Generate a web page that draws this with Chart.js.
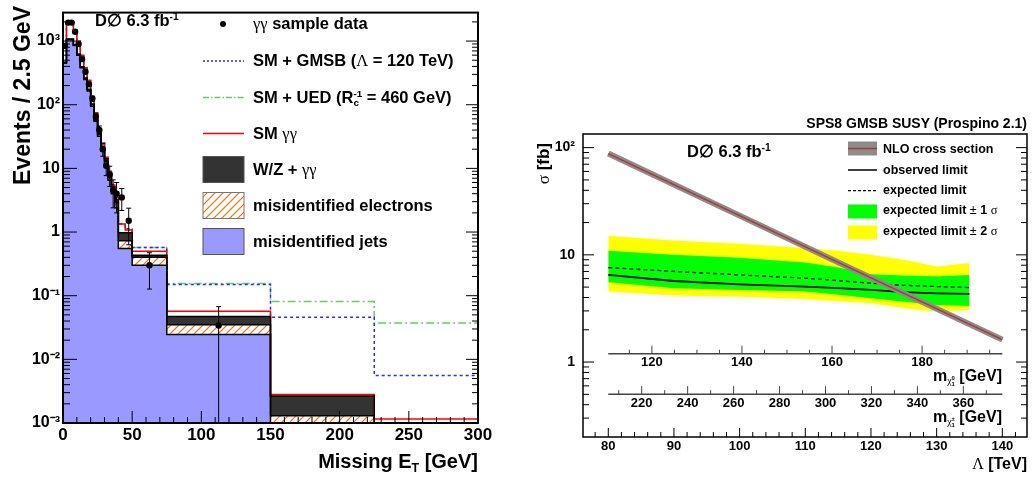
<!DOCTYPE html>
<html>
<head>
<meta charset="utf-8">
<script src="https://cdn.jsdelivr.net/npm/chart.js@4/dist/chart.umd.min.js"></script>
<style>
body { margin: 0; background: #fff; width: 1036px; height: 483px; overflow: hidden; position: relative;
       font-family: "Liberation Sans", Arial, sans-serif; font-weight: bold; color: #000; }
canvas { position: absolute; top: 0; }
#leftChart { left: 0; }
#rightChart { left: 536px; }
.t { position: absolute; white-space: nowrap; line-height: 1; }
.g { font-family: "Liberation Serif", "DejaVu Serif", serif; font-weight: normal; }
.sp { font-size: 62%; position: relative; top: -0.6em; }
.sb { font-size: 62%; position: relative; top: 0.3em; }
.st { display: inline-block; font-size: 60%; line-height: 0.95; vertical-align: -0.35em; text-align: left; }
.st span { display: block; }
.rot { transform-origin: 0 0; transform: rotate(-90deg) translate(-100%, -50%); }
</style>
</head>
<body>
<canvas id="leftChart" width="500" height="483"></canvas>
<canvas id="rightChart" width="500" height="483"></canvas>

<svg style="position:absolute;left:0;top:0" width="1036" height="483">
  <defs>
    <pattern id="hatch" width="8" height="8" patternUnits="userSpaceOnUse">
      <rect width="8" height="8" fill="#fff"/>
      <path d="M0,8 L8,0 M-2,2 L2,-2 M6,10 L10,6" stroke="#ff6a00" stroke-width="1.2"/>
    </pattern>
  </defs>
  <circle cx="223" cy="24" r="3" fill="#000"/>
  <line x1="203" y1="61" x2="244" y2="61" stroke="#2a2aff" stroke-width="1.5" stroke-dasharray="2,2"/>
  <line x1="203" y1="97.5" x2="244" y2="97.5" stroke="#66cc66" stroke-width="1.5" stroke-dasharray="6,2,1.5,2"/>
  <line x1="203" y1="133.5" x2="244" y2="133.5" stroke="#ff0000" stroke-width="1.5"/>
  <rect x="203" y="156.5" width="41" height="26" fill="#333" stroke="#555" stroke-width="1"/>
  <rect x="203" y="192.5" width="41" height="26" fill="url(#hatch)" stroke="#777" stroke-width="1"/>
  <rect x="203" y="228.5" width="41" height="26" fill="#9999ff" stroke="#555" stroke-width="1"/>

  <rect x="848" y="141.5" width="29" height="14" fill="#8c8c8c"/>
  <line x1="848" y1="148.5" x2="877" y2="148.5" stroke="#b03535" stroke-width="1.5"/>
  <line x1="848" y1="170" x2="877" y2="170" stroke="#000" stroke-width="1.5"/>
  <line x1="848" y1="190.7" x2="877" y2="190.7" stroke="#000" stroke-width="1.2" stroke-dasharray="3,2"/>
  <rect x="848" y="204.5" width="29" height="14" fill="#00ff00"/>
  <rect x="848" y="225.5" width="29" height="14" fill="#ffff00"/>
</svg>

<!-- left panel texts -->
<div class="t rot" style="left:22px;top:6px;font-size:23px">Events / 2.5 GeV</div>
<div class="t" style="right:558px;top:451px;font-size:20px">Missing E<span class="sb">T</span> [GeV]</div>
<div class="t" style="left:95px;top:12px;font-size:16.5px">D∅ 6.3 fb<span class="sp">-1</span></div>
<div class="t" style="left:253px;top:15px;font-size:16.5px"><span class="g">γγ</span> sample data</div>
<div class="t" style="left:253px;top:52px;font-size:16.5px">SM + GMSB (<span class="g">Λ</span> = 120 TeV)</div>
<div class="t" style="left:253px;top:88.5px;font-size:16.5px">SM + UED (R<span class="st"><span>-1</span><span>c</span></span> = 460 GeV)</div>
<div class="t" style="left:253px;top:124.5px;font-size:16.5px">SM <span class="g">γγ</span></div>
<div class="t" style="left:253px;top:160.5px;font-size:16.5px">W/Z + <span class="g">γγ</span></div>
<div class="t" style="left:253px;top:196.5px;font-size:16.5px">misidentified electrons</div>
<div class="t" style="left:253px;top:232.5px;font-size:16.5px">misidentified jets</div>

<!-- right panel texts -->
<div class="t" style="right:9px;top:115.5px;font-size:14px">SPS8 GMSB SUSY (Prospino 2.1)</div>
<div class="t" style="left:687px;top:142.7px;font-size:16.5px">D∅ 6.3 fb<span class="sp">-1</span></div>
<div class="t" style="left:883px;top:142.7px;font-size:12.5px">NLO cross section</div>
<div class="t" style="left:883px;top:164.4px;font-size:12.5px">observed limit</div>
<div class="t" style="left:883px;top:184.4px;font-size:12.5px">expected limit</div>
<div class="t" style="left:883px;top:204.4px;font-size:12.5px">expected limit <span style="font-weight:normal">±</span> 1 <span class="g">σ</span></div>
<div class="t" style="left:883px;top:225.4px;font-size:12.5px">expected limit <span style="font-weight:normal">±</span> 2 <span class="g">σ</span></div>
<div class="t" style="right:34px;top:368px;font-size:16px">m<span class="sb"><span class="g">χ</span><span class="st"><span>0</span><span>1</span></span></span> [GeV]</div>
<div class="t" style="right:34px;top:409px;font-size:16px">m<span class="sb"><span class="g">χ</span><span class="st"><span>±</span><span>1</span></span></span> [GeV]</div>
<div class="t" style="right:9px;top:455.5px;font-size:16px"><span class="g">Λ</span> [TeV]</div>
<div class="t rot" style="left:543px;top:143px;font-size:17px"><span class="g">σ</span> [fb]</div>

<script>
// ---- left panel: missing ET distribution (bin edges in GeV, values in events / 2.5 GeV)
const binEdges = [0, 2.5, 5, 7.5, 10, 12.5, 15, 17.5, 20, 22.5, 25, 27.5, 30, 32.5, 35, 37.5, 40, 45, 50, 75, 150, 225, 300];
const misidJets = [450, 1050, 1050, 850, 600, 380, 250, 165, 95, 55, 32, 19, 11.5, 6.5, 4.0, 2.4, 0.55, 0.55, 0.30, 0.0245, 0, 0];
const misidElectrons = [10, 20, 20, 20, 15, 12, 9, 7, 5, 3.5, 2.5, 1.8, 1.3, 0.9, 0.7, 0.5, 0.18, 0.18, 0.10, 0.0105, 0.0013, 0];
const wzGammaGamma = [3, 5, 5, 5, 4, 4, 3, 3, 2.5, 2, 1.5, 1.1, 0.8, 0.6, 0.4, 0.3, 0.24, 0.24, 0.03, 0.012, 0.00136, 0];
const smGammaGamma = [387, 925, 925, 625, 381, 204, 118, 65, 27.5, 14.5, 6, 3.1, 1.4, 1.0, 0.4, 0.3, 0.37, 0.11, 0.07, 0.010, 0.00014, 0.00116];
const gmsbSignal = [0, 0, 0, 0, 0, 0, 0, 0, 0, 0, 0, 0, 0, 0, 0, 0, 0.01, 0.05, 0.07, 0.093, 0.0432, 0.0044];
const uedSignal = [0, 0, 0, 0, 0, 0, 0, 0, 0, 0, 0, 0, 0, 0, 0, 0, 0.01, 0.05, 0.07, 0.098, 0.078, 0.036];

const dataMet = [1.25, 3.75, 6.25, 8.75, 11.25, 13.75, 16.25, 18.75, 21.25, 23.75, 26.25, 28.75, 31.25, 33.75, 36.25, 38.75, 42.5, 47.5, 62.5, 112.5];
const dataEvents = [840, 1950, 1950, 1400, 900, 520, 330, 210, 125, 65, 40, 20, 11, 8, 4.5, 4.0, 3.5, 1.5, 0.30, 0.034];
const dataErr = [29, 44, 44, 37, 30, 23, 18, 14.5, 11, 8, 6.3, 4.5, 3.3, 2.8, 2.1, 2.0, 1.32, 0.87, 0.173, 0.0333];

const leftXLabels = [0, 50, 100, 150, 200, 250, 300];
const leftYLabels = [0.001, 0.01, 0.1, 1, 10, 100, 1000];
const leftYText = ['10⁻³', '10⁻²', '10⁻¹', '1', '10', '10²', '10³'];

// ---- right panel: cross section limits vs Lambda
const lambdaTeV = [80, 90, 100, 110, 115, 120, 125, 130, 135];
const plus2Sigma = [15.1, 13.6, 12.7, 11.6, 10.9, 10.0, 9.0, 7.8, 8.4];
const plus1Sigma = [10.9, 10.0, 9.4, 8.5, 7.6, 6.6, 6.4, 6.3, 6.5];
const expectedLimit = [7.6, 7.0, 6.5, 6.05, 5.75, 5.43, 5.2, 5.06, 4.95];
const observedLimit = [6.5, 5.7, 5.3, 5.06, 4.9, 4.71, 4.5, 4.38, 4.32];
const minus1Sigma = [5.56, 4.89, 4.71, 4.54, 4.25, 3.94, 3.65, 3.41, 3.33];
const minus2Sigma = [4.54, 4.17, 4.07, 3.88, 3.7, 3.54, 3.2, 2.95, 3.06];
const nloLambda = [80, 100, 120, 140];
const nloXsec = [88, 23.2, 6.1, 1.62];

const lambdaLabels = [80, 90, 100, 110, 120, 130, 140];
const rightYLabels = [1, 10, 100];
const rightYText = ['1', '10', '10²'];
const neutralinoLabels = [120, 140, 160, 180];
const charginoLabels = [220, 240, 260, 280, 300, 320, 340, 360];

Chart.defaults.font.family = '"Liberation Sans", Arial, sans-serif';
Chart.defaults.font.weight = 'bold';
Chart.defaults.color = '#000';

function logMinor(min, max) {
    const out = [];
    for (let e = -4; e <= 4; e++) {
        for (let k = 2; k <= 9; k++) {
            const v = k * Math.pow(10, e);
            if (v > min && v < max) out.push(v);
        }
    }
    return out;
}

function linMinor(from, to, step, skip) {
    const out = [];
    for (let v = from; v <= to + 1e-9; v += step) {
        if (Math.abs(v / skip - Math.round(v / skip)) > 1e-6) out.push(v);
    }
    return out;
}

function steps(vals) {
    const pts = vals.map((v, i) => ({ x: binEdges[i], y: Math.max(v, 1e-6) }));
    pts.push({ x: binEdges[binEdges.length - 1], y: Math.max(vals[vals.length - 1], 1e-6) });
    return pts;
}

function series(xs, ys) {
    return xs.map((x, i) => ({ x: x, y: ys[i] }));
}

// ROOT style frame with inward tick marks
function frameTicksPlugin(marks, frameWidth) {
    return {
        id: 'frameTicks',
        afterDraw(chart) {
            const { ctx, chartArea: a, scales } = chart;
            ctx.save();
            marks.forEach(m => {
                const s = scales[m.scale];
                let base = 0;
                if (m.side === 'inner') {
                    base = scales.y.getPixelForValue(m.at);
                    ctx.strokeStyle = m.color;
                    ctx.lineWidth = m.axisWidth;
                    ctx.beginPath();
                    ctx.moveTo(scales.x.getPixelForValue(m.span[0]), base);
                    ctx.lineTo(scales.x.getPixelForValue(m.span[1]), base);
                    ctx.stroke();
                }
                ctx.strokeStyle = m.color || '#000';
                ctx.lineWidth = 1;
                const mark = (v, len) => {
                    const p = s.getPixelForValue(v);
                    ctx.beginPath();
                    if (m.side === 'bottom') { ctx.moveTo(p, a.bottom); ctx.lineTo(p, a.bottom - len); }
                    else if (m.side === 'left') { ctx.moveTo(a.left, p); ctx.lineTo(a.left + len, p); }
                    else if (m.side === 'right') { ctx.moveTo(a.right, p); ctx.lineTo(a.right - len, p); }
                    else { ctx.moveTo(p, base); ctx.lineTo(p, base - len); }
                    ctx.stroke();
                };
                m.major.forEach(v => mark(v, m.len[0]));
                m.minor.forEach(v => mark(v, m.len[1]));
            });
            ctx.strokeStyle = '#000';
            ctx.lineWidth = frameWidth;
            ctx.strokeRect(a.left, a.top, a.right - a.left, a.bottom - a.top);
            ctx.restore();
        }
    };
}

const errorBars = {
    id: 'errorBars',
    afterDatasetsDraw(chart) {
        const { ctx, chartArea: a, scales: { x, y } } = chart;
        ctx.save();
        ctx.beginPath();
        ctx.rect(a.left, a.top, a.right - a.left, a.bottom - a.top);
        ctx.clip();
        ctx.strokeStyle = '#000';
        ctx.lineWidth = 1;
        dataMet.forEach((m, i) => {
            const px = x.getPixelForValue(m);
            const y1 = y.getPixelForValue(dataEvents[i] + dataErr[i]);
            const y2 = y.getPixelForValue(Math.max(dataEvents[i] - dataErr[i], 1e-6));
            ctx.beginPath();
            ctx.moveTo(px, y1); ctx.lineTo(px, y2);
            ctx.moveTo(px - 2.5, y1); ctx.lineTo(px + 2.5, y1);
            ctx.moveTo(px - 2.5, y2); ctx.lineTo(px + 2.5, y2);
            ctx.stroke();
        });
        ctx.restore();
    }
};

function hatchPattern() {
    const c = document.createElement('canvas');
    c.width = 8; c.height = 8;
    const g = c.getContext('2d');
    g.fillStyle = '#fff';
    g.fillRect(0, 0, 8, 8);
    g.strokeStyle = '#ff6a00';
    g.lineWidth = 1.2;
    g.beginPath();
    g.moveTo(0, 8); g.lineTo(8, 0);
    g.moveTo(-2, 2); g.lineTo(2, -2);
    g.moveTo(6, 10); g.lineTo(10, 6);
    g.stroke();
    return g.createPattern(c, 'repeat');
}

const noGrid = { display: false, drawTicks: false };

document.addEventListener('DOMContentLoaded', function() {
    try {
        const cumEle = misidJets.map((v, i) => v + misidElectrons[i]);
        const cumWZ = cumEle.map((v, i) => v + wzGammaGamma[i]);
        const cumSM = cumWZ.map((v, i) => v + smGammaGamma[i]);
        const cumGMSB = cumSM.map((v, i) => v + gmsbSignal[i]);
        const cumUED = cumSM.map((v, i) => v + uedSignal[i]);

        const histLine = { stepped: true, pointRadius: 0, borderWidth: 1.5, fill: false };

        // fills are painted first, then the outlines: black stack outlines over the red SM line,
        // which itself covers the signal lines
        new Chart(document.getElementById('leftChart'), {
            type: 'line',
            data: {
                datasets: [
                    { label: 'γγ sample data', data: series(dataMet, dataEvents), showLine: false,
                      pointRadius: 3.2, pointBackgroundColor: '#000', pointBorderWidth: 0, order: 0 },
                    Object.assign({ label: 'SM γγ', data: steps(cumSM), borderColor: '#ff0000', order: 4 }, histLine),
                    Object.assign({ label: 'SM + GMSB', data: steps(cumGMSB), borderColor: '#2a2aff',
                                    borderDash: [3, 3], order: 5 }, histLine),
                    Object.assign({ label: 'SM + UED', data: steps(cumUED), borderColor: '#66cc66',
                                    borderDash: [8, 3, 2, 3], order: 6 }, histLine),
                    Object.assign({}, histLine, { label: 'W/Z + γγ', data: steps(cumWZ), borderColor: '#000',
                                    backgroundColor: '#333333', fill: 5, order: 1 }),
                    Object.assign({}, histLine, { label: 'misidentified electrons', data: steps(cumEle), borderColor: '#000',
                                    backgroundColor: hatchPattern(), fill: 6, order: 2 }),
                    Object.assign({}, histLine, { label: 'misidentified jets', data: steps(misidJets), borderColor: '#000',
                                    backgroundColor: '#9999ff', fill: 'start', order: 3 })
                ]
            },
            options: {
                responsive: false,
                animation: false,
                devicePixelRatio: 1,
                layout: { padding: { top: 4, right: 22, left: 0, bottom: 0 } },
                plugins: {
                    legend: { display: false },
                    tooltip: { enabled: false },
                    filler: { drawTime: 'beforeDatasetsDraw' }
                },
                scales: {
                    x: {
                        type: 'linear', min: 0, max: 300,
                        grid: noGrid, border: { display: false },
                        afterBuildTicks: s => { s.ticks = leftXLabels.map(v => ({ value: v })); },
                        afterFit: s => { s.height = 60; },
                        ticks: { autoSkip: false, maxRotation: 0, padding: 2, font: { size: 17, weight: 'bold' },
                                 callback: v => String(v) }
                    },
                    y: {
                        type: 'logarithmic', min: 0.001, max: 2800,
                        grid: noGrid, border: { display: false },
                        afterBuildTicks: s => { s.ticks = leftYLabels.map(v => ({ value: v })); },
                        afterFit: s => { s.width = 63; },
                        ticks: { autoSkip: false, padding: 3, font: { size: 16, weight: 'bold' },
                                 callback: (v, i) => leftYText[i] }
                    }
                }
            },
            plugins: [errorBars, frameTicksPlugin([
                { scale: 'x', side: 'bottom', major: leftXLabels, minor: linMinor(0, 300, 10, 50), len: [12, 6] },
                { scale: 'y', side: 'left', major: leftYLabels, minor: logMinor(0.001, 2800), len: [14, 7] },
                { scale: 'y', side: 'right', major: leftYLabels, minor: logMinor(0.001, 2800), len: [12, 6] }
            ], 2)]
        });

        const band = { pointRadius: 0, borderWidth: 0, xAxisID: 'x' };

        new Chart(document.getElementById('rightChart'), {
            type: 'line',
            data: {
                datasets: [
                    Object.assign({ label: 'expected limit ± 2 σ', data: series(lambdaTeV, plus2Sigma),
                                    backgroundColor: '#ffff00', fill: 1, order: 10 }, band),
                    Object.assign({ label: '-2 σ', data: series(lambdaTeV, minus2Sigma), fill: false, order: 10 }, band),
                    Object.assign({ label: 'expected limit ± 1 σ', data: series(lambdaTeV, plus1Sigma),
                                    backgroundColor: '#00ff00', fill: 3, order: 9 }, band),
                    Object.assign({ label: '-1 σ', data: series(lambdaTeV, minus1Sigma), fill: false, order: 9 }, band),
                    { label: 'expected limit', data: series(lambdaTeV, expectedLimit), xAxisID: 'x',
                      borderColor: '#000', borderWidth: 1.3, borderDash: [4, 3], pointRadius: 0, fill: false, order: 5 },
                    { label: 'observed limit', data: series(lambdaTeV, observedLimit), xAxisID: 'x',
                      borderColor: '#000', borderWidth: 1.8, pointRadius: 0, fill: false, order: 4 },
                    { label: 'NLO band', data: series(nloLambda, nloXsec), xAxisID: 'x',
                      borderColor: '#8c8c8c', borderWidth: 6, borderCapStyle: 'butt', pointRadius: 0, fill: false, order: 3 },
                    { label: 'NLO cross section', data: series(nloLambda, nloXsec), xAxisID: 'x',
                      borderColor: '#b03535', borderWidth: 1.5, pointRadius: 0, fill: false, order: 2 }
                ]
            },
            options: {
                responsive: false,
                animation: false,
                devicePixelRatio: 1,
                layout: { padding: { top: 134, right: 9, left: 0, bottom: 0 } },
                plugins: {
                    legend: { display: false },
                    tooltip: { enabled: false },
                    filler: { drawTime: 'beforeDatasetsDraw' }
                },
                scales: {
                    x: {
                        type: 'linear', min: 76.15, max: 143.76, position: 'bottom',
                        grid: noGrid, border: { display: false },
                        afterBuildTicks: s => { s.ticks = lambdaLabels.map(v => ({ value: v })); },
                        afterFit: s => { s.height = 46; },
                        ticks: { autoSkip: false, maxRotation: 0, padding: 2, font: { size: 13, weight: 'bold' },
                                 callback: v => String(v) }
                    },
                    xNeutralino: {
                        axis: 'x', type: 'linear', min: 104.7, max: 203.3, position: { y: 1.196 },
                        grid: noGrid, border: { display: false },
                        afterBuildTicks: s => { s.ticks = neutralinoLabels.map(v => ({ value: v })); },
                        ticks: { autoSkip: false, maxRotation: 0, padding: 1, font: { size: 13, weight: 'bold' },
                                 callback: v => String(v) }
                    },
                    xChargino: {
                        axis: 'x', type: 'linear', min: 194.45, max: 387.7, position: { y: 0.502 },
                        grid: noGrid, border: { display: false },
                        afterBuildTicks: s => { s.ticks = charginoLabels.map(v => ({ value: v })); },
                        ticks: { autoSkip: false, maxRotation: 0, padding: 1, font: { size: 13, weight: 'bold' },
                                 callback: v => String(v) }
                    },
                    y: {
                        type: 'logarithmic', min: 0.2, max: 134, position: 'left',
                        grid: noGrid, border: { display: false },
                        afterBuildTicks: s => { s.ticks = rightYLabels.map(v => ({ value: v })); },
                        afterFit: s => { s.width = 47; },
                        ticks: { autoSkip: false, padding: 8, font: { size: 14, weight: 'bold' },
                                 callback: (v, i) => rightYText[i] }
                    }
                }
            },
            plugins: [frameTicksPlugin([
                { scale: 'x', side: 'bottom', major: lambdaLabels, minor: linMinor(78, 142, 2, 10), len: [9, 5] },
                { scale: 'y', side: 'left', major: rightYLabels, minor: logMinor(0.2, 134), len: [11, 6] },
                { scale: 'y', side: 'right', major: rightYLabels, minor: logMinor(0.2, 134), len: [11, 6] },
                { scale: 'xNeutralino', side: 'inner', at: 1.196, span: [80, 140], color: '#444', axisWidth: 1.5,
                  major: neutralinoLabels, minor: linMinor(115, 195, 5, 20), len: [8, 4] },
                { scale: 'xChargino', side: 'inner', at: 0.502, span: [80, 140], color: '#444', axisWidth: 1.5,
                  major: charginoLabels, minor: linMinor(210, 370, 10, 20), len: [8, 4] }
            ], 1.5)]
        });
    } catch (error) {
        console.error('Erreur:', error);
    }
});
</script>
</body>
</html>
